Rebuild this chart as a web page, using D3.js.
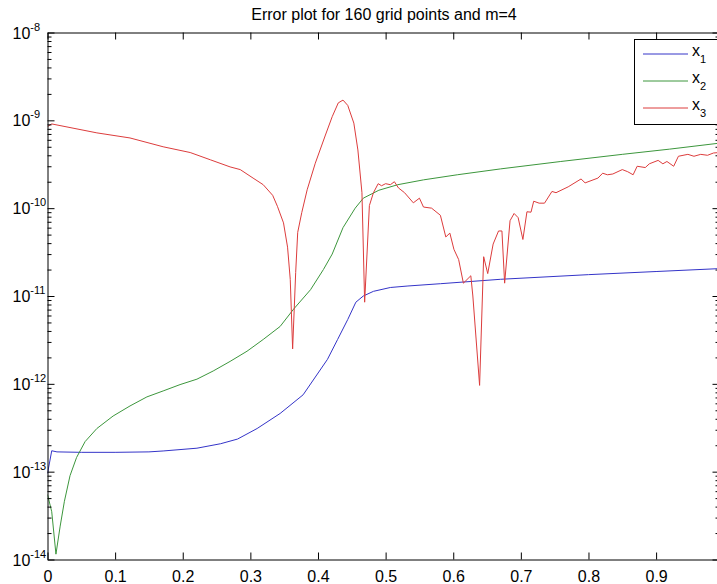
<!DOCTYPE html>
<html>
<head>
<meta charset="utf-8">
<script src="https://cdn.jsdelivr.net/npm/d3@7/dist/d3.min.js"></script>
<style>
  html, body { margin: 0; padding: 0; background: #fff; }
  svg { display: block; font-family: "Liberation Sans", Arial, Helvetica, sans-serif; }
</style>
</head>
<body>
<svg id="chart" width="717" height="584"></svg>
<script>
// Error of the three solution components on the 160-point grid (m = 4)
const titleText = "Error plot for 160 grid points and m=4";
const xTicks = [0, 0.1, 0.2, 0.3, 0.4, 0.5, 0.6, 0.7, 0.8, 0.9];
const yDecades = [-14, -13, -12, -11, -10, -9, -8];
const seriesNames = ["1", "2", "3"];   // subscripts of x
const seriesColors = ["#3434c8", "#3c963c", "#dc3c3c"];

// x1 error
const x1Grid = [0, 0.00625, 0.014, 0.05, 0.1, 0.15, 0.171, 0.221, 0.256, 0.281, 0.31, 0.344,
  0.378, 0.414, 0.429, 0.444, 0.456, 0.467, 0.482, 0.507, 0.533, 0.581, 0.67, 0.8, 0.9, 0.99375];
const x1Err = [9.5e-14, 1.73e-13, 1.68e-13, 1.66e-13, 1.66e-13, 1.68e-13, 1.72e-13, 1.85e-13,
  2.08e-13, 2.35e-13, 3.1e-13, 4.6e-13, 7.5e-13, 1.9e-12, 3.2e-12, 5.4e-12, 8.5e-12, 1.0e-11,
  1.13e-11, 1.25e-11, 1.3e-11, 1.38e-11, 1.55e-11, 1.75e-11, 1.9e-11, 2.05e-11];

// x2 error
const x2Grid = [0, 0.00625, 0.0125, 0.01875, 0.025, 0.0333, 0.043, 0.0556, 0.073, 0.097, 0.122,
  0.147, 0.171, 0.196, 0.221, 0.245, 0.27, 0.295, 0.319, 0.344, 0.364, 0.389, 0.408, 0.421,
  0.437, 0.455, 0.467, 0.49, 0.518, 0.556, 0.606, 0.67, 0.759, 0.85, 0.92, 0.99375];
const x2Err = [5.5e-14, 3.5e-14, 1.15e-14, 2.4e-14, 4.6e-14, 9e-14, 1.45e-13, 2.2e-13, 3.1e-13,
  4.3e-13, 5.6e-13, 7.1e-13, 8.3e-13, 9.8e-13, 1.13e-12, 1.4e-12, 1.8e-12, 2.35e-12, 3.2e-12,
  4.5e-12, 7.1e-12, 1.18e-11, 2.0e-11, 3.0e-11, 6.0e-11, 1.0e-10, 1.3e-10, 1.6e-10, 1.85e-10,
  2.1e-10, 2.4e-10, 2.8e-10, 3.4e-10, 4.1e-10, 4.7e-10, 5.5e-10];

// x3 error
const x3Grid = [0, 0.00625, 0.073, 0.122, 0.171, 0.211, 0.241, 0.27, 0.285, 0.304, 0.319, 0.333,
  0.34, 0.349, 0.355, 0.359, 0.3625, 0.367, 0.37, 0.376, 0.384, 0.396, 0.411, 0.421, 0.43, 0.437,
  0.444, 0.453, 0.459, 0.465, 0.469, 0.476, 0.482, 0.489, 0.494, 0.5, 0.507, 0.513, 0.519, 0.528,
  0.541, 0.55, 0.556, 0.568, 0.581, 0.589, 0.595, 0.601, 0.608, 0.615, 0.626, 0.629, 0.639,
  0.645, 0.651, 0.659, 0.667, 0.672, 0.676, 0.684, 0.69, 0.696, 0.703, 0.709, 0.715, 0.719,
  0.727, 0.735, 0.746, 0.752, 0.77, 0.789, 0.795, 0.814, 0.821, 0.828, 0.836, 0.85, 0.858,
  0.866, 0.872, 0.884, 0.89, 0.903, 0.91, 0.916, 0.926, 0.933, 0.947, 0.956, 0.966, 0.976,
  0.985, 0.99375];
const x3Err = [8.5e-10, 9.1e-10, 7.2e-10, 6.3e-10, 5.0e-10, 4.3e-10, 3.55e-10, 2.95e-10, 2.75e-10,
  2.2e-10, 1.85e-10, 1.4e-10, 1.05e-10, 6.8e-11, 3.6e-11, 1.54e-11, 2.5e-12, 1.85e-11, 5.3e-11,
  8.9e-11, 1.62e-10, 3.25e-10, 6.8e-10, 1.1e-9, 1.58e-9, 1.7e-9, 1.48e-9, 9.3e-10, 4.6e-10,
  1.5e-10, 8.5e-12, 1.07e-10, 1.5e-10, 1.9e-10, 1.8e-10, 1.9e-10, 1.85e-10, 2.0e-10, 1.7e-10,
  1.5e-10, 1.15e-10, 1.3e-10, 1.03e-10, 1.0e-10, 8.3e-11, 4.7e-11, 5.2e-11, 3.4e-11, 2.6e-11,
  1.4e-11, 1.7e-11, 1.0e-11, 9.6e-13, 2.8e-11, 1.8e-11, 3.9e-11, 5.5e-11, 5.5e-11, 1.4e-11,
  7.2e-11, 8.7e-11, 7.8e-11, 4.4e-11, 9.1e-11, 9.0e-11, 1.2e-10, 1.14e-10, 1.14e-10, 1.55e-10,
  1.5e-10, 1.75e-10, 2.15e-10, 1.94e-10, 2.2e-10, 2.5e-10, 2.4e-10, 2.45e-10, 2.75e-10, 2.6e-10,
  2.4e-10, 3.0e-10, 2.9e-10, 3.2e-10, 3.5e-10, 3.2e-10, 3.4e-10, 3.0e-10, 3.9e-10, 4.1e-10,
  3.9e-10, 4.1e-10, 4.0e-10, 4.25e-10, 4.3e-10];

const series = [
  { grid: x1Grid, err: x1Err },
  { grid: x2Grid, err: x2Err },
  { grid: x3Grid, err: x3Err }
];

const svg = d3.select("#chart");
const plot = { left: 47.5, right: 719.5, top: 32.5, bottom: 559.5 };

const x = d3.scaleLinear().domain([0, 159 / 160]).range([plot.left, plot.right]);
const y = d3.scaleLog().domain([1e-14, 1e-8]).range([plot.bottom, plot.top]);

const majorY = yDecades.map(e => Math.pow(10, e));
const minorY = [];
for (let e = -14; e < -8; e++) for (let k = 2; k <= 9; k++) minorY.push(k * Math.pow(10, e));

svg.append("defs").append("clipPath").attr("id", "plotClip")
  .append("rect")
  .attr("x", plot.left).attr("y", plot.top)
  .attr("width", plot.right - plot.left).attr("height", plot.bottom - plot.top);

// curves
const line = d3.line().x(d => x(d[0])).y(d => y(d[1]));
const curves = svg.append("g").attr("clip-path", "url(#plotClip)");
series.forEach((s, i) => {
  curves.append("path")
    .datum(s.grid.map((g, j) => [g, s.err[j]]))
    .attr("fill", "none")
    .attr("stroke", seriesColors[i])
    .attr("stroke-width", 1)
    .attr("stroke-linejoin", "round")
    .attr("d", line);
});

// axes with inward ticks on all four sides
function styleAxis(g) {
  g.selectAll("path.domain").attr("stroke", "#000").attr("stroke-width", 1);
  g.selectAll(".tick line").attr("stroke", "#000").attr("stroke-width", 1);
}

svg.append("g").attr("transform", `translate(0,${plot.bottom})`)
  .call(d3.axisBottom(x).tickValues(xTicks).tickSizeInner(-7).tickSizeOuter(0).tickPadding(10)
    .tickFormat(d => d === 0 ? "0" : d3.format(".1f")(d)))
  .call(styleAxis)
  .call(g => g.selectAll("text").attr("font-size", 16).attr("fill", "#000")
    .attr("font-family", "'Liberation Sans', Arial, sans-serif").attr("dy", "0.75em"));

svg.append("g").attr("transform", `translate(0,${plot.top})`)
  .call(d3.axisTop(x).tickValues(xTicks).tickSizeInner(-7).tickSizeOuter(0).tickFormat(""))
  .call(styleAxis);

svg.append("g").attr("transform", `translate(${plot.left},0)`)
  .call(d3.axisLeft(y).tickValues(majorY).tickSizeInner(-7).tickSizeOuter(0).tickFormat(""))
  .call(styleAxis);
svg.append("g").attr("transform", `translate(${plot.left},0)`)
  .call(d3.axisLeft(y).tickValues(minorY).tickSizeInner(-4).tickSizeOuter(0).tickFormat(""))
  .call(styleAxis)
  .call(g => g.select("path.domain").remove());

svg.append("g").attr("transform", `translate(${plot.right},0)`)
  .call(d3.axisRight(y).tickValues(majorY).tickSizeInner(-7).tickSizeOuter(0).tickFormat(""))
  .call(styleAxis);
svg.append("g").attr("transform", `translate(${plot.right},0)`)
  .call(d3.axisRight(y).tickValues(minorY).tickSizeInner(-4).tickSizeOuter(0).tickFormat(""))
  .call(styleAxis)
  .call(g => g.select("path.domain").remove());

// y tick labels as 10^e
const yLabels = svg.append("g").attr("font-family", "'Liberation Sans', Arial, sans-serif").attr("fill", "#000");
yDecades.forEach(e => {
  const ty = y(Math.pow(10, e));
  const t = yLabels.append("text").attr("x", 12.5).attr("y", ty + 6);
  t.append("tspan").attr("font-size", 16).text("10");
  t.append("tspan").attr("font-size", 11).attr("dy", -8).text(String(e));
});

// title
svg.append("text")
  .attr("x", (plot.left + plot.right) / 2 + 0.5)
  .attr("y", 20)
  .attr("text-anchor", "middle")
  .attr("font-size", 16)
  .attr("fill", "#000")
  .text(titleText);

// legend
const legend = svg.append("g");
legend.append("rect")
  .attr("x", 634.5).attr("y", 39.5)
  .attr("width", 120).attr("height", 85)
  .attr("fill", "#fff").attr("stroke", "#000").attr("stroke-width", 1);
seriesNames.forEach((name, i) => {
  const ly = 54 + i * 27;
  legend.append("line")
    .attr("x1", 643).attr("x2", 688).attr("y1", ly).attr("y2", ly)
    .attr("stroke", seriesColors[i]).attr("stroke-width", 1);
  const t = legend.append("text").attr("x", 692).attr("y", ly + 2)
    .attr("fill", "#000").attr("font-family", "'Liberation Sans', Arial, sans-serif");
  t.append("tspan").attr("font-size", 16).text("x");
  t.append("tspan").attr("font-size", 11).attr("dy", 7).text(name);
});
</script>
</body>
</html>
